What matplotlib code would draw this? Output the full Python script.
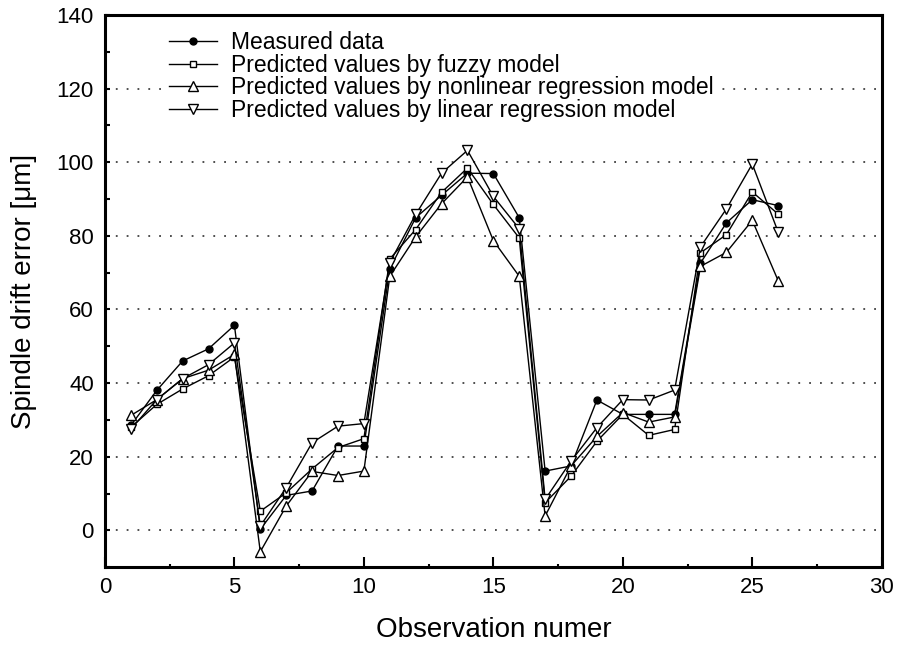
import matplotlib
matplotlib.use("Agg")
import matplotlib.pyplot as plt
from matplotlib.ticker import MultipleLocator

plt.rcParams["font.family"] = ["Liberation Sans", "DejaVu Sans"]

obs = list(range(1, 27))
measured = [28.5, 38.0, 46.0, 49.3, 55.7, 0.3, 9.5, 10.7, 22.9, 22.9,
            71.0, 84.9, 91.0, 97.0, 96.9, 84.9, 16.1, 17.5, 35.4, 31.5,
            31.5, 31.5, 72.6, 83.5, 89.8, 88.2]
fuzzy = [28.0, 34.2, 38.4, 42.0, 47.1, 5.2, 10.2, 16.7, 22.5, 24.9,
         73.7, 81.7, 91.8, 98.4, 88.5, 79.4, 7.5, 14.7, 24.2, 31.5,
         25.8, 27.4, 75.4, 80.3, 91.9, 85.9]
nonlinear = [31.2, 35.5, 41.2, 43.5, 47.8, -5.8, 6.6, 16.0, 14.9, 16.1,
             69.0, 79.7, 88.7, 96.0, 78.7, 69.0, 3.9, 17.5, 25.5, 32.0,
             29.4, 30.8, 71.7, 75.5, 84.2, 67.8]
linear = [27.5, 35.5, 41.2, 45.0, 50.9, 1.2, 11.6, 23.8, 28.3, 29.0,
          72.7, 85.8, 97.0, 103.2, 90.7, 81.9, 8.4, 18.8, 27.9, 35.5,
          35.4, 38.1, 77.0, 87.3, 99.5, 81.0]

series = [
    ("Measured data", measured, "o", 5.0, "black"),
    ("Predicted values by fuzzy model", fuzzy, "s", 5.0, "white"),
    ("Predicted values by nonlinear regression model", nonlinear, "^", 6.5, "white"),
    ("Predicted values by linear regression model", linear, "v", 6.5, "white"),
]

fig = plt.figure(figsize=(8.97, 6.46), dpi=100)
ax = fig.add_axes([0.117, 0.122, 0.866, 0.855])

for y in range(0, 140, 20):
    ax.axhline(y, color="0.25", lw=1.3, ls=(0, (1, 5)), zorder=0)

for label, vals, mk, ms, fc in series:
    ax.plot(obs, vals, color="black", lw=1.0, marker=mk, ms=ms,
            mfc=fc, mec="black", mew=1.0, label=label, zorder=3)

ax.set_xlim(0, 30)
ax.set_ylim(-10, 140)
ax.xaxis.set_major_locator(MultipleLocator(5))
ax.xaxis.set_minor_locator(MultipleLocator(2.5))
ax.yaxis.set_major_locator(MultipleLocator(20))
ax.yaxis.set_minor_locator(MultipleLocator(10))
ax.set_yticks(range(0, 141, 20))
ax.tick_params(axis="x", which="major", direction="in", length=7, width=1.5,
               labelsize=16, pad=7)
ax.tick_params(axis="x", which="minor", direction="in", length=2.5, width=1.5)
ax.tick_params(axis="y", which="both", direction="in", length=3.5, width=1.5,
               labelsize=16, pad=8)
for sp in ax.spines.values():
    sp.set_linewidth(2.2)

ax.set_xlabel("Observation numer", fontsize=20, labelpad=14)
ax.set_ylabel("Spindle drift error [μm]", fontsize=20, labelpad=14)

leg = ax.legend(loc="upper left", bbox_to_anchor=(0.065, 0.995), fontsize=16.5,
                frameon=True, facecolor="white", edgecolor="none",
                framealpha=1.0, fancybox=False, labelspacing=-0.02,
                handlelength=2.1, handletextpad=0.6, borderpad=0.1)
leg.set_zorder(2)

fig.savefig("out.png", dpi=100)
